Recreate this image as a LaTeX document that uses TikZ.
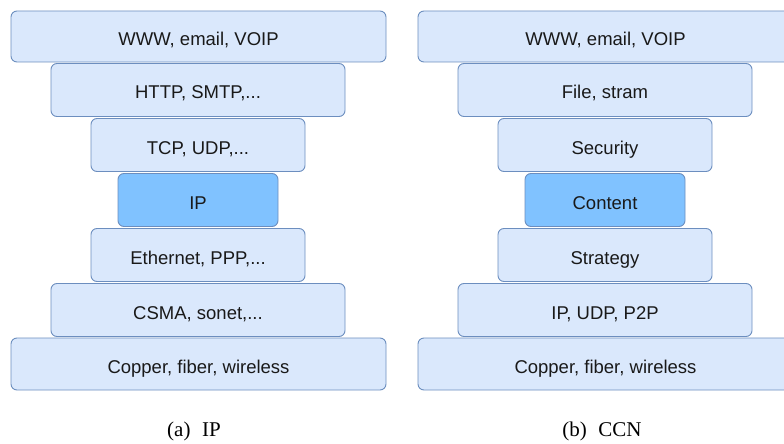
\documentclass[tikz,border=0pt]{standalone}
\usepackage{fontspec}
\setsansfont{Liberation Sans}
\setmainfont{Liberation Serif}
\definecolor{boxfill}{HTML}{DAE8FC}
\definecolor{boxline}{HTML}{6C8EBF}
\definecolor{hifill}{HTML}{80C2FF}
\tikzset{
  layer/.style={draw=boxline, fill=boxfill, line width=0.9pt, rounded corners=6pt,
    minimum height=53pt, inner sep=0pt, text height=18pt, text depth=0pt,
    font=\sffamily\fontsize{18.5}{22}\selectfont, text=black!90},
  hilayer/.style={layer, fill=hifill},
  wA/.style={minimum width=375pt},
  wB/.style={minimum width=294pt},
  wC/.style={minimum width=214pt},
  wD/.style={minimum width=160pt},
  captext/.style={font=\rmfamily\fontsize{21}{24}\selectfont, inner sep=0pt}
}
\begin{document}
\begin{tikzpicture}[x=1pt,y=-1pt]
\useasboundingbox (0,0) rectangle (784,444);
\begin{scope}
\clip (0,0) rectangle (784,444);
% left stack
\node[layer,wA,minimum height=51pt] (l1) at (198.5,36.5) {WWW, email, VOIP};
\node[layer,wB] (l2) at (198,90) {HTTP, SMTP,...};
\node[layer,wC] (l3) at (198,145) {TCP, UDP,...};
\node[hilayer,wD] (l4) at (198,200) {IP};
\node[layer,wC] (l5) at (198,255) {Ethernet, PPP,...};
\node[layer,wB] (l6) at (198,310) {CSMA, sonet,...};
\node[layer,wA,minimum height=52pt] (l7) at (198.5,364) {Copper, fiber, wireless};
% right stack
\node[layer,wA,minimum height=51pt] (r1) at (605.5,36.5) {WWW, email, VOIP};
\node[layer,wB] (r2) at (605,90) {File, stram};
\node[layer,wC] (r3) at (605,145) {Security};
\node[hilayer,wD] (r4) at (605,200) {Content};
\node[layer,wC] (r5) at (605,255) {Strategy};
\node[layer,wB] (r6) at (605,310) {IP, UDP, P2P};
\node[layer,wA,minimum height=52pt] (r7) at (605.5,364) {Copper, fiber, wireless};
\end{scope}
% captions
\node[captext] (ca) at (194,431) {(a)\hspace{0.55em}IP};
\node[captext] (cb) at (602,431) {(b)\hspace{0.55em}CCN};
\end{tikzpicture}
\end{document}
